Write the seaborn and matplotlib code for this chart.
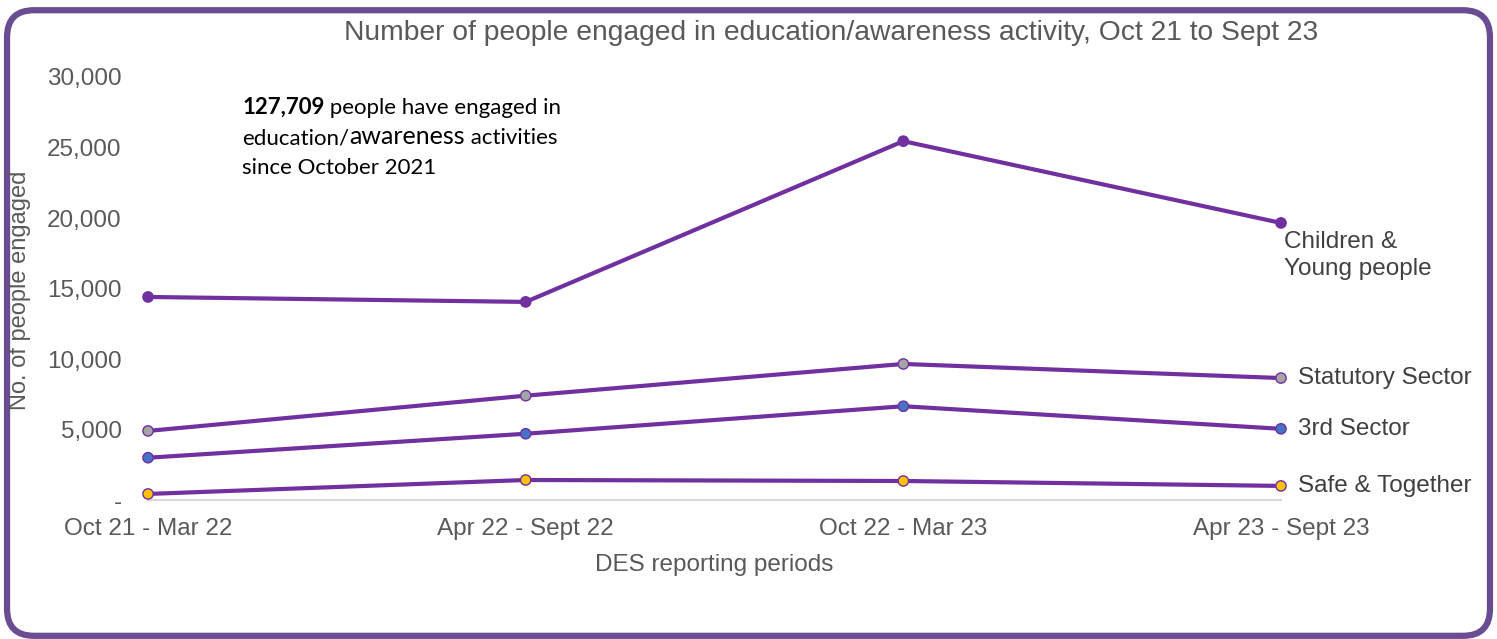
import matplotlib
matplotlib.use("Agg")
import matplotlib.pyplot as plt
from matplotlib.patches import FancyBboxPatch
from matplotlib.transforms import offset_copy
import seaborn as sns
import pandas as pd

periods = ["Oct 21 - Mar 22", "Apr 22 - Sept 22", "Oct 22 - Mar 23", "Apr 23 - Sept 23"]
children = [14400, 14050, 25450, 19650]
statutory = [4900, 7400, 9650, 8650]
third_sector = [3000, 4700, 6650, 5050]
safe_together = [430, 1420, 1350, 1000]
series_names = ["Children &\nYoung people", "Statutory Sector", "3rd Sector", "Safe & Together"]
ytick_values = [0, 5000, 10000, 15000, 20000, 25000, 30000]
ytick_labels = ["-", "5,000", "10,000", "15,000", "20,000", "25,000", "30,000"]

line_color = "#7030a0"
marker_colors = ["#7030a0", "#a5a5a5", "#4472c4", "#ffc000"]
text_gray = "#595959"

rows = []
for name, vals in zip(series_names, [children, statutory, third_sector, safe_together]):
    for i, (p, v) in enumerate(zip(periods, vals)):
        rows.append({"series": name, "period": p, "x": i, "value": v})
df = pd.DataFrame(rows)

sns.set_theme(style="white")
plt.rcParams["font.family"] = ["Liberation Sans", "DejaVu Sans"]

fig = plt.figure(figsize=(14.97, 6.39), dpi=100)
ax = fig.add_axes([0.0989, 0.2175, 0.7568, 0.662])

sns.lineplot(data=df, x="x", y="value", hue="series", hue_order=series_names,
             palette=[line_color] * 4, linewidth=3, legend=False, ax=ax, zorder=2,
             clip_on=False)
sns.scatterplot(data=df, x="x", y="value", hue="series", hue_order=series_names,
                palette=marker_colors, s=55, edgecolor=line_color, linewidth=1.0,
                legend=False, ax=ax, zorder=3, clip_on=False)

ax.set_xlim(0, 3)
ax.set_ylim(0, 30000)
ax.set_xticks(range(len(periods)))
ax.set_xticklabels(periods)
ax.set_yticks(ytick_values)
ax.set_yticklabels(ytick_labels)
ax.tick_params(axis="both", length=0, labelsize=17.5, labelcolor=text_gray)
ax.tick_params(axis="x", pad=13)
ax.tick_params(axis="y", pad=19)
for s in ["top", "right", "left"]:
    ax.spines[s].set_visible(False)
ax.spines["bottom"].set_color("#d9d9d9")
ax.spines["bottom"].set_linewidth(1.5)
ax.spines["bottom"].set_zorder(1)

ax.set_xlabel("DES reporting periods", fontsize=17.5, color=text_gray, labelpad=10)
ax.set_ylabel("")
fig.text(0.0135, 0.546, "No. of people engaged", rotation=90, fontsize=17,
         color=text_gray, ha="center", va="center")

fig.text(0.555, 0.948, "Number of people engaged in education/awareness activity, Oct 21 to Sept 23",
         fontsize=20.3, color=text_gray, ha="center", va="center")

# Series labels at the right end of each line
last = {name: vals[-1] for name, vals in zip(series_names, [children, statutory, third_sector, safe_together])}
ax.annotate(series_names[0], (3, last[series_names[0]]), xytext=(2, -6), textcoords="offset points",
            ha="left", va="top", fontsize=17.5, color="#404040", annotation_clip=False, linespacing=1.25)
for name in series_names[1:]:
    ax.annotate(name, (3, last[name]), xytext=(12, 0), textcoords="offset points",
                ha="left", va="center", fontsize=17.5, color="#404040", annotation_clip=False)

# Summary note, written piece by piece so mixed styles sit on one line
note_font = ["Lato", "DejaVu Sans"]
renderer = fig.canvas.get_renderer()


def run_line(x0, y0, pieces):
    trans = fig.transFigure
    for txt, kw in pieces:
        t = fig.text(x0, y0, txt, transform=trans, color="black", family=note_font,
                     va="baseline", **kw)
        w = t.get_window_extent(renderer=renderer).width
        trans = offset_copy(trans, fig=fig, x=w, y=0, units="dots")


run_line(0.1617, 0.822, [("127,709", dict(fontsize=16, fontweight="bold")),
                         (" people have engaged in", dict(fontsize=16))])
run_line(0.1617, 0.774, [("education/", dict(fontsize=16)),
                         ("awareness", dict(fontsize=18)),
                         (" activities", dict(fontsize=16))])
run_line(0.1617, 0.727, [("since October 2021", dict(fontsize=16))])

# Rounded frame around the panel
frame = FancyBboxPatch((0.0047, 0.005), 0.9906, 0.979, boxstyle="round,pad=0,rounding_size=0.018",
                       transform=fig.transFigure, facecolor="none", edgecolor="#6a4c93",
                       linewidth=4.5, mutation_aspect=1497 / 639)
fig.patches.append(frame)

fig.savefig("out.png", dpi=100)
